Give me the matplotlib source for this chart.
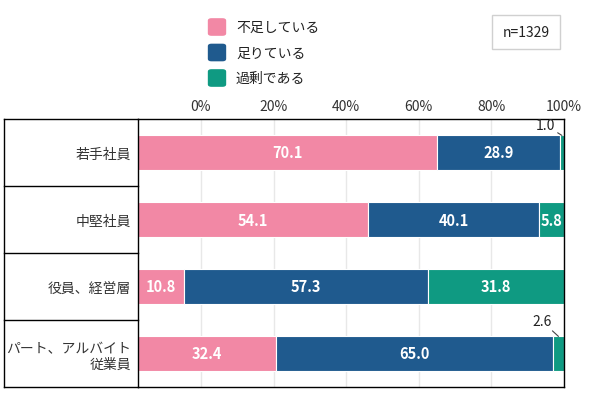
import matplotlib.pyplot as plt
import numpy as np
from matplotlib.patches import FancyBboxPatch

plt.rcParams['font.family'] = ['Noto Sans CJK JP', 'DejaVu Sans']

# data
categories = ['若手社員', '中堅社員', '役員、経営層', 'パート、アルバイト\n従業員']
series_names = ['不足している', '足りている', '過剰である']
shortage = [70.1, 54.1, 10.8, 32.4]
enough = [28.9, 40.1, 57.3, 65.0]
excess = [1.0, 5.8, 31.8, 2.6]
tick_vals = [0, 20, 40, 60, 80, 100]
tick_labels = ['0%', '20%', '40%', '60%', '80%', '100%']
n_text = 'n=1329'

colors = ['#F288A5', '#1F5A8E', '#0F9A82']
txt_col = '#333333'
# offsets (points) for the small outside labels, by row
small_offsets = {0: (-12, 2.5), 3: (-12, 6)}

fig = plt.figure(figsize=(5.9, 4.14), dpi=100)
ax = fig.add_axes([138/590, 1 - 388/414, 426/590, 268/414])
ax2 = ax.twiny()

y = np.arange(len(categories))
left = np.zeros(len(categories))
for vals, col, name in zip([shortage, enough, excess], colors, series_names):
    bars = ax.barh(y, vals, left=left, height=0.51, color=col,
                   edgecolor='white', linewidth=0.8, label=name)
    for i, (b, v) in enumerate(zip(bars, vals)):
        if v >= 5:
            ax.text(b.get_x() + b.get_width() / 2, b.get_y() + b.get_height() / 2,
                    f'{v:.1f}', ha='center', va='center', color='white',
                    fontsize=10.5, fontweight='bold')
        else:
            ax.annotate(f'{v:.1f}', xy=(b.get_x() + b.get_width() / 2, b.get_y()),
                        xytext=small_offsets.get(i, (-10, 4)), textcoords='offset points',
                        ha='center', va='bottom', fontsize=10, color='#222222',
                        arrowprops=dict(arrowstyle='-', color='#444444', lw=0.8,
                                        shrinkA=0, shrinkB=0))
    left = left + np.array(vals)

ax.set_xlim(0, 100)
ax.set_ylim(len(categories) - 0.5, -0.5)
ax.set_xticks([])
ax.set_yticks(y)
ax.set_yticklabels(categories, fontsize=10, color=txt_col, ha='right')
ax.tick_params(axis='y', length=0, pad=5)
for s in ax.spines.values():
    s.set_color('black')
    s.set_linewidth(1)

# label column frame
col_w = -134 / 426
line_kw = dict(color='black', lw=1, clip_on=False, solid_capstyle='projecting')
trans = ax.get_yaxis_transform()
for yy in [0.5, 1.5, 2.5]:
    ax.plot([col_w, 0], [yy, yy], transform=trans, **line_kw)
ax.plot([col_w, 0], [-0.5, -0.5], transform=trans, **line_kw)
ax.plot([col_w, 0], [3.5, 3.5], transform=trans, **line_kw)
ax.plot([col_w, col_w], [-0.5, 3.5], transform=trans, **line_kw)

# percentage axis (offset from the bars, as in the source)
ax2.set_xlim(-17.36, 100.05)
ax2.set_xticks(tick_vals)
ax2.set_xticklabels(tick_labels, fontsize=10, color=txt_col)
ax2.tick_params(axis='x', length=0, pad=4)
ax2.grid(axis='x', color='#e8e8e8', lw=1)
for s in ax2.spines.values():
    s.set_visible(False)
ax.set_zorder(2)
ax2.set_zorder(1)
ax.patch.set_visible(False)

# legend
for i, (name, col) in enumerate(zip(series_names, colors)):
    yc = 1 - (28 + i * 25.5) / 414
    box = FancyBboxPatch((209/590, yc - 8/414), 16/590, 16/414,
                         boxstyle='round,pad=0.002,rounding_size=0.006',
                         transform=fig.transFigure, facecolor=col, edgecolor='none')
    fig.patches.append(box)
    fig.text(236/590, yc, name, fontsize=10, color='#222222', va='center', ha='left')

fig.text(526/590, 1 - 33/414, n_text, fontsize=10, color='#222222', ha='center', va='center',
         bbox=dict(boxstyle='square,pad=0.75', facecolor='white', edgecolor='#d0d0d0', lw=1))

fig.savefig('out.png', dpi=100)
